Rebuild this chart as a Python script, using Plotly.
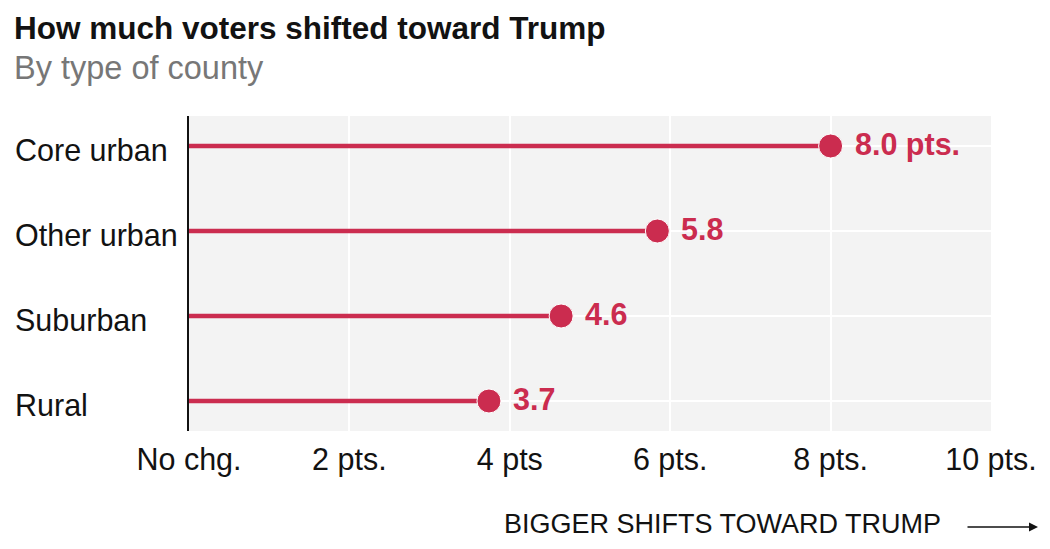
import plotly.graph_objects as go

categories = ["Core urban", "Other urban", "Suburban", "Rural"]
shift_values = [8.0, 5.84, 4.64, 3.74]
value_labels = ["8.0 pts.", "5.8", "4.6", "3.7"]
tick_values = [0, 2, 4, 6, 8, 10]
tick_labels = ["No chg.", "2 pts.", "4 pts", "6 pts.", "8 pts.", "10 pts."]

W, H = 1050, 549
ML, MR, MT, MB = 189, 59, 116, 118
FONT = "Liberation Sans, Arial, sans-serif"
RED = "#cb2c4f"

fig = go.Figure()

# stems
sx, sy = [], []
for c, v in zip(categories, shift_values):
    sx += [0, v, None]
    sy += [c, c, None]
fig.add_trace(go.Scatter(x=sx, y=sy, mode="lines",
                         line=dict(color=RED, width=4.5), hoverinfo="skip",
                         showlegend=False, cliponaxis=False))
# dots
fig.add_trace(go.Scatter(x=shift_values, y=categories, mode="markers",
                         marker=dict(color=RED, size=24, line=dict(color="white", width=1)),
                         showlegend=False, cliponaxis=False))

annotations = []
# value labels
for c, v, t in zip(categories, shift_values, value_labels):
    annotations.append(dict(x=v, y=c, xref="x", yref="y", text=t, showarrow=False,
                            xanchor="left", yanchor="middle", xshift=22, yshift=2,
                            font=dict(family=FONT, size=30.5, color=RED, weight="bold")))

def py(pix):
    return 1 - (pix - MT) / (H - MT - MB)

def px(pix):
    return (pix - ML) / (W - ML - MR)

# row labels (left aligned)
for c in categories:
    annotations.append(dict(x=px(13), y=c, xref="paper", yref="y",
                            text=c, showarrow=False, xanchor="left", yanchor="middle",
                            yshift=-4, font=dict(family=FONT, size=30.5, color="#121212")))

annotations.append(dict(x=px(12), y=py(28), xref="paper", yref="paper",
                        text="<b>How much voters shifted toward Trump</b>", showarrow=False,
                        xanchor="left", yanchor="middle",
                        font=dict(family=FONT, size=31.5, color="#121212")))
annotations.append(dict(x=px(12), y=py(68), xref="paper", yref="paper",
                        text="By type of county", showarrow=False,
                        xanchor="left", yanchor="middle",
                        font=dict(family=FONT, size=32.5, color="#777777")))
annotations.append(dict(x=px(943), y=py(524), xref="paper", yref="paper",
                        text="BIGGER SHIFTS TOWARD TRUMP", showarrow=False,
                        xanchor="right", yanchor="middle",
                        font=dict(family=FONT, size=27, color="#121212")))
annotations.append(dict(x=px(1038), y=py(527), xref="paper", yref="paper",
                        text="", showarrow=True, ax=-72, ay=0,
                        arrowhead=2, arrowsize=1.2, arrowwidth=1.5, arrowcolor="#121212"))

fig.update_layout(
    width=W, height=H,
    margin=dict(l=ML, r=MR, t=MT, b=MB),
    paper_bgcolor="white", plot_bgcolor="#f3f3f3",
    font=dict(family=FONT, color="#121212"),
    annotations=annotations,
    xaxis=dict(range=[0, 10], tickmode="array", tickvals=tick_values, ticktext=tick_labels,
               showgrid=True, gridcolor="white", gridwidth=2, zeroline=False,
               showline=False, ticks="", ticklabelstandoff=7,
               tickfont=dict(family=FONT, size=30.5, color="#121212"), fixedrange=True),
    yaxis=dict(type="category", categoryorder="array", categoryarray=categories,
               range=[3.353, -0.353], showgrid=True, gridcolor="white", gridwidth=2,
               showticklabels=False, ticks="", zeroline=False,
               showline=True, linecolor="#121212", linewidth=2, fixedrange=True),
)

fig.write_html("out.html", config={"displayModeBar": False},
               post_script="document.body.style.margin='0';document.body.style.padding='0';")
